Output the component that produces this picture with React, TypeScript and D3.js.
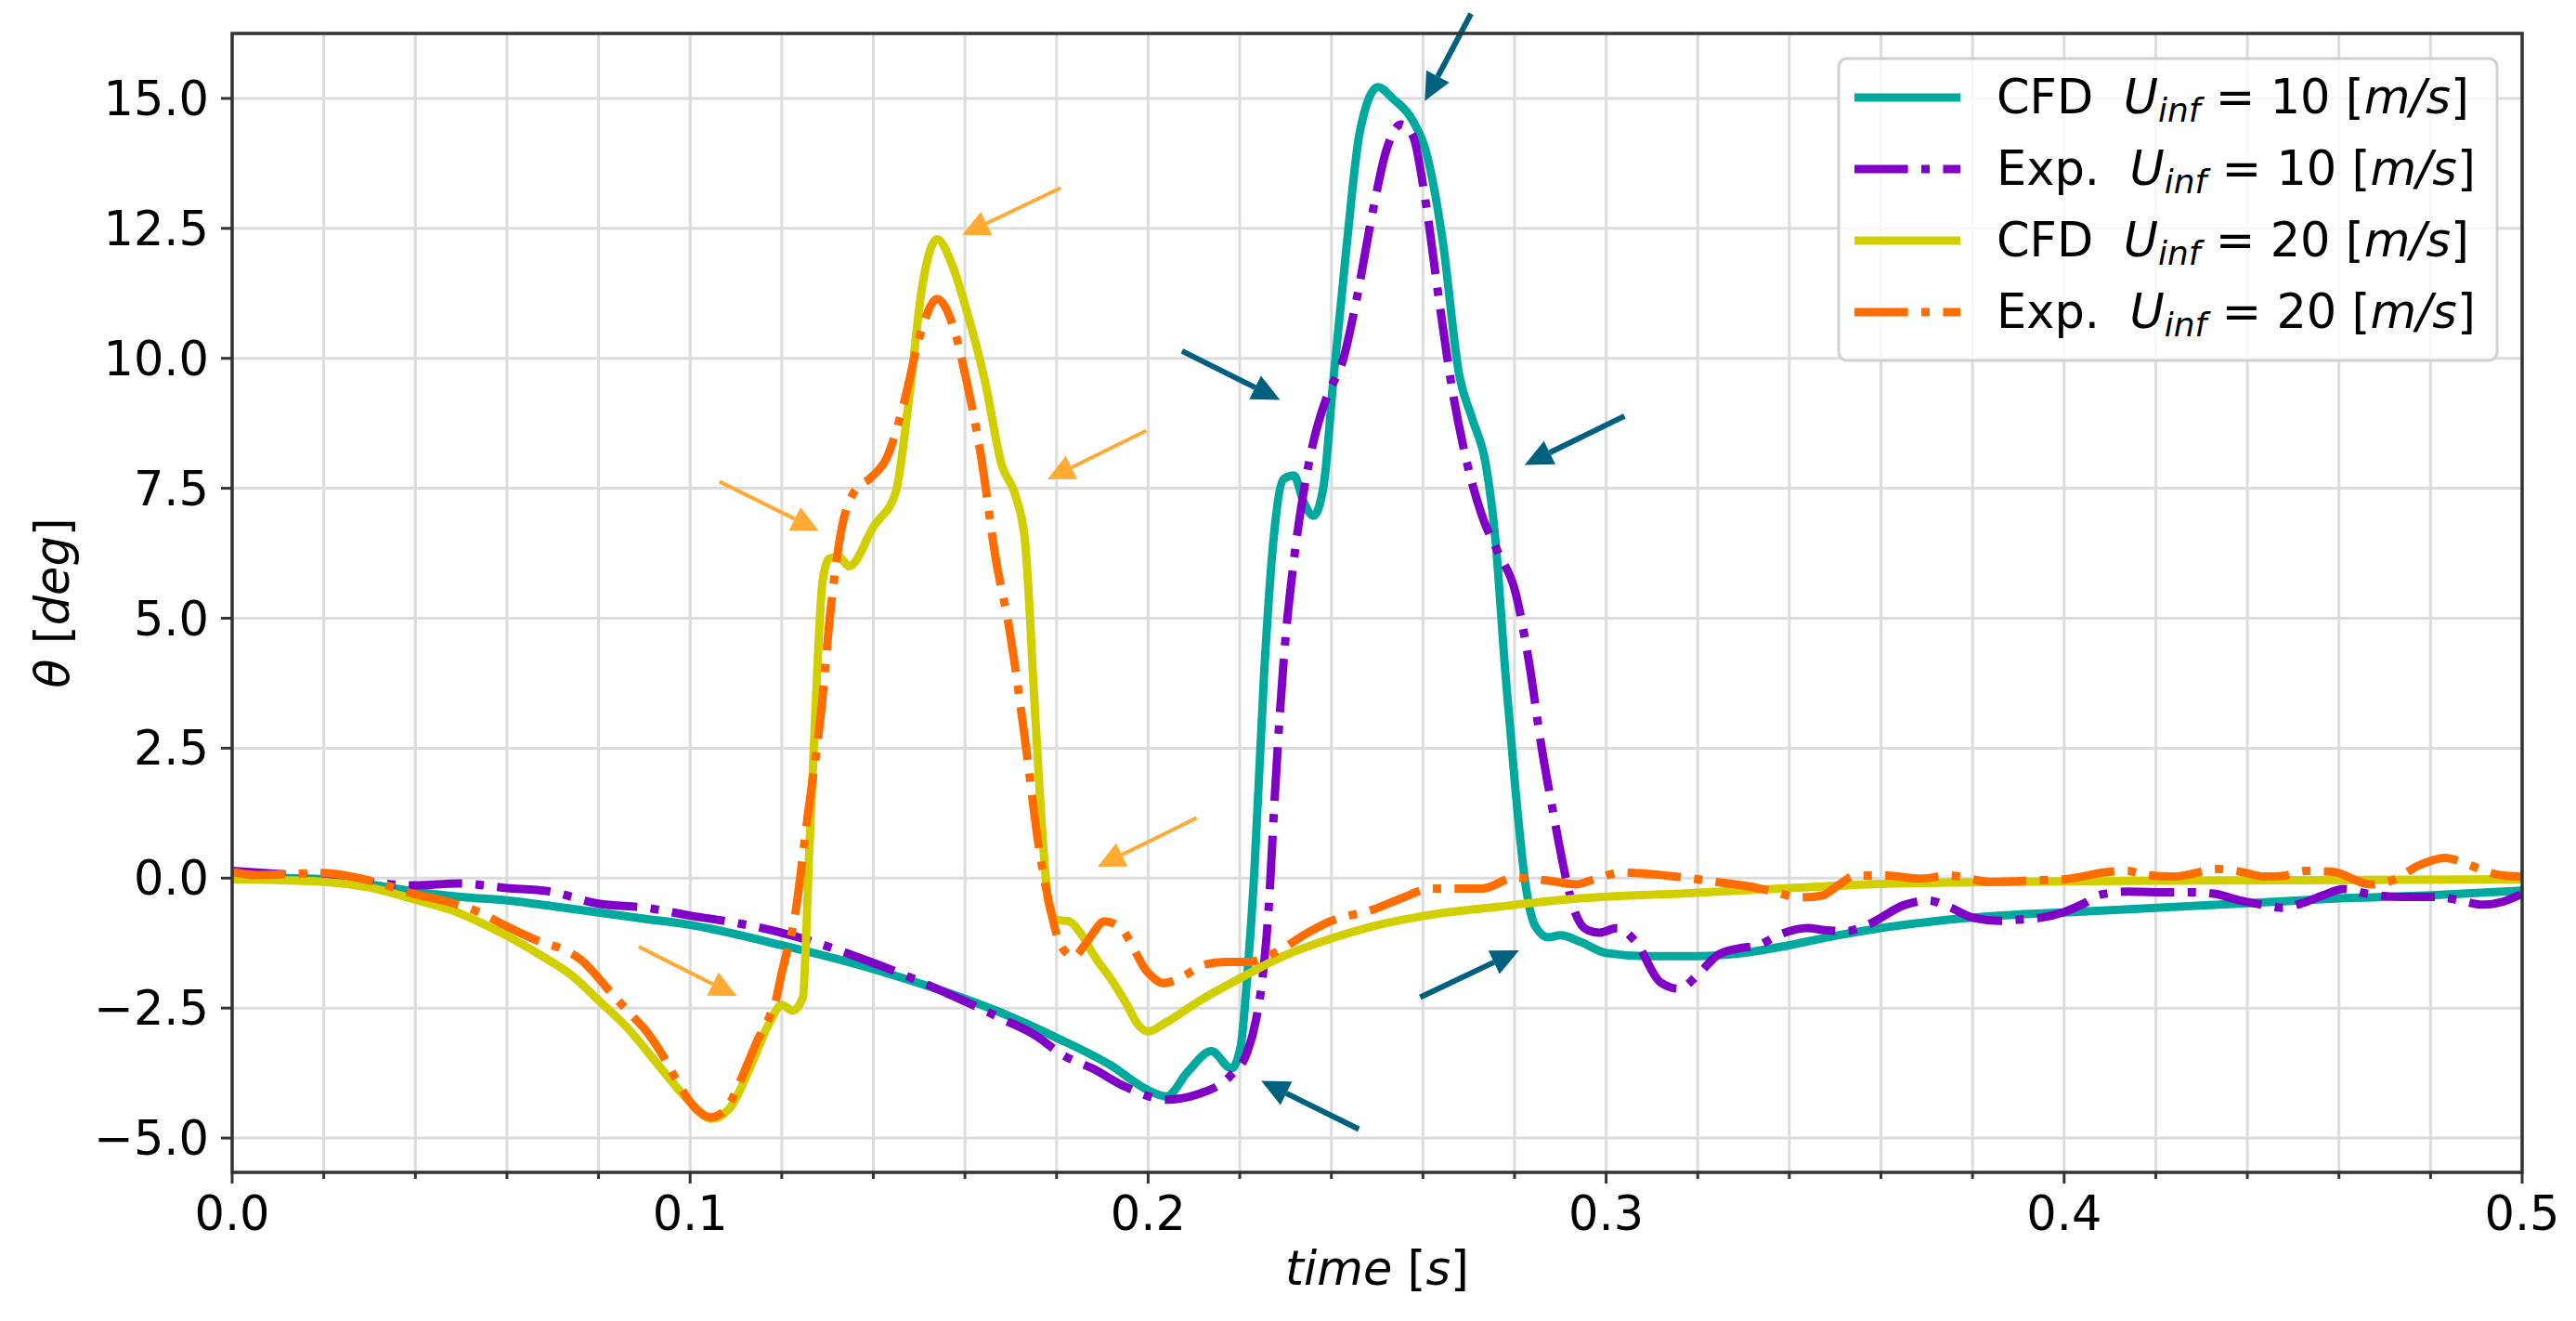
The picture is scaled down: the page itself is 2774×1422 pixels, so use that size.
import React, { useEffect, useRef } from "react";
import * as d3 from "d3";

// ---- data ----
const cfd10Time = [
  0, 0.02, 0.03, 0.04, 0.05, 0.06, 0.07, 0.08, 0.09, 0.1, 0.12, 0.14, 0.1682, 0.18,
  0.1918, 0.2, 0.204, 0.2087, 0.2138, 0.2182, 0.2202, 0.2216, 0.2232, 0.2253, 0.2274,
  0.2296, 0.2318, 0.2339, 0.2361, 0.2383, 0.2404, 0.2433, 0.2462, 0.2502, 0.2534,
  0.2578, 0.2606, 0.2643, 0.2679, 0.2708, 0.2737, 0.2758, 0.278, 0.2801, 0.2823,
  0.2845, 0.2874, 0.29, 0.2945, 0.3, 0.3088, 0.32, 0.33, 0.34, 0.35, 0.36, 0.3725,
  0.38, 0.39, 0.4, 0.42, 0.44, 0.46, 0.48, 0.5,
];
const cfd10Theta = [
  0.02, -0.02, -0.12, -0.26, -0.36, -0.43, -0.54, -0.66, -0.78, -0.9, -1.29, -1.75, -2.6, -3.07,
  -3.6, -4.08, -4.2, -3.72, -3.33, -3.66, -3.24, -1.93, 0.15, 3.9, 6.54,
  7.68, 7.75, 7.25, 6.97, 7.54, 9.55, 12.13, 14.35, 15.22, 15.0,
  14.57, 14.0, 12.27, 9.69, 8.83, 7.97, 6.54, 3.95, 1.8, -0.06,
  -0.92, -1.14, -1.1, -1.23, -1.44, -1.5, -1.5, -1.44, -1.29, -1.11, -0.96, -0.82,
  -0.76, -0.7, -0.66, -0.57, -0.48, -0.39, -0.33, -0.24,
];

const exp10Time = [
  0, 0.02, 0.04, 0.0494, 0.06, 0.0689, 0.08, 0.0904, 0.1, 0.1106, 0.12, 0.14, 0.1689,
  0.1749, 0.1817, 0.1878, 0.1952, 0.204, 0.2114, 0.2182, 0.2216, 0.2236, 0.225, 0.2263,
  0.2276, 0.2296, 0.2318, 0.2339, 0.2361, 0.239, 0.2426, 0.2455, 0.2491, 0.252, 0.2552,
  0.2578, 0.2606, 0.2635, 0.2664, 0.2693, 0.2729, 0.2765, 0.2801, 0.283, 0.2859,
  0.2888, 0.291, 0.2931, 0.2959, 0.2985, 0.3024, 0.3065, 0.3118, 0.3159, 0.32, 0.3245,
  0.329, 0.3332, 0.338, 0.344, 0.3478, 0.3523, 0.3575, 0.365, 0.3703, 0.3748, 0.38,
  0.386, 0.3898, 0.395, 0.4, 0.4045, 0.4078, 0.4138, 0.42, 0.4275, 0.4327, 0.438,
  0.4431, 0.4476, 0.452, 0.4565, 0.461, 0.4662, 0.4736, 0.481, 0.4859, 0.4914, 0.4959,
  0.5,
];
const exp10Theta = [
  0.14, 0.02, -0.14, -0.1, -0.19, -0.25, -0.49, -0.57, -0.72, -0.87, -1.05, -1.63, -2.74,
  -3.0, -3.42, -3.66, -4.02, -4.26, -4.14, -3.78, -3.36, -2.71, -1.9, -0.6,
  1.5, 4.2, 6.1, 7.4, 8.4, 9.26, 9.98, 11.13, 12.85, 14.0, 14.5,
  14.28, 13.0, 11.13, 9.4, 8.11, 6.97, 6.25, 5.53, 4.24, 2.52,
  1.09, 0.09, -0.63, -1.0, -1.05, -0.96, -1.23, -2.0, -2.13, -1.86, -1.47,
  -1.35, -1.29, -1.08, -0.96, -1.0, -1.02, -0.88, -0.52, -0.43, -0.55, -0.76,
  -0.82, -0.8, -0.76, -0.65, -0.48, -0.32, -0.26, -0.27, -0.27, -0.3, -0.42,
  -0.51, -0.57, -0.48, -0.33, -0.21, -0.3, -0.36, -0.36, -0.42, -0.51, -0.45,
  -0.3,
];

const cfd20Time = [
  0, 0.02, 0.03, 0.0406, 0.0473, 0.06, 0.0675, 0.0743, 0.08, 0.0864, 0.0931, 0.1, 0.1046,
  0.1086, 0.1133, 0.1174, 0.12, 0.1224, 0.1246, 0.126, 0.1275, 0.1289, 0.1304, 0.1325,
  0.1347, 0.1401, 0.1449, 0.1477, 0.1507, 0.1539, 0.1572, 0.1601, 0.1644, 0.168, 0.171,
  0.1731, 0.1753, 0.1772, 0.1783, 0.18, 0.1827, 0.1851, 0.1884, 0.1918, 0.1952, 0.1979,
  0.2, 0.204, 0.2114, 0.22, 0.229, 0.24, 0.2493, 0.2621, 0.2765, 0.29, 0.32, 0.34, 0.36,
  0.38, 0.4, 0.45, 0.5,
];
const cfd20Theta = [
  -0.02, -0.07, -0.18, -0.43, -0.6, -1.11, -1.49, -1.88, -2.35, -2.89, -3.6, -4.31, -4.63,
  -4.43, -3.6, -2.77, -2.44, -2.55, -2.3, 0.5, 3.5, 5.7, 6.15, 6.18,
  6.0, 6.77, 7.43, 9.15, 11.4, 12.29, 11.8, 11.0, 9.55, 7.96, 7.37,
  6.5, 3.2, 0.5, -0.5, -0.8, -0.83, -1.04, -1.52, -1.93, -2.41, -2.83,
  -2.95, -2.77, -2.35, -1.93, -1.52, -1.16, -0.92, -0.7, -0.55, -0.42, -0.28, -0.19, -0.11,
  -0.08, -0.06, -0.04, -0.02,
];

const exp20Time = [
  0, 0.0053, 0.02, 0.031, 0.04, 0.0473, 0.0541, 0.06, 0.0675, 0.0723, 0.0763, 0.0824,
  0.0864, 0.0904, 0.0945, 0.0978, 0.1012, 0.1046, 0.1079, 0.1113, 0.1147, 0.1174, 0.1187,
  0.12, 0.1228, 0.1257, 0.1286, 0.1307, 0.1329, 0.1358, 0.1394, 0.143, 0.1467, 0.1503,
  0.1539, 0.1575, 0.1604, 0.1633, 0.1668, 0.1697, 0.1733, 0.1762, 0.1786, 0.1803,
  0.1824, 0.1837, 0.1857, 0.1874, 0.1905, 0.1939, 0.2, 0.2033, 0.2074, 0.2121, 0.2168,
  0.2222, 0.227, 0.2357, 0.2398, 0.2493, 0.2549, 0.2621, 0.2729, 0.2801, 0.2874,
  0.2935, 0.2968, 0.3035, 0.3095, 0.3163, 0.3238, 0.3313, 0.3362, 0.3425, 0.347,
  0.3508, 0.3545, 0.3613, 0.3688, 0.3748, 0.3838, 0.3943, 0.4003, 0.4097, 0.4138,
  0.4178, 0.4238, 0.4283, 0.433, 0.4387, 0.4439, 0.4476, 0.4528, 0.4587, 0.4669,
  0.472, 0.4773, 0.4833, 0.4862, 0.4907, 0.4952, 0.5,
];
const exp20Theta = [
  0.12, 0.06, 0.1, -0.07, -0.31, -0.46, -0.66, -0.93, -1.23, -1.37, -1.58, -2.17,
  -2.56, -2.94, -3.48, -4.01, -4.43, -4.6, -4.43, -3.83, -3.12, -2.65, -2.35,
  -1.82, -0.77, 1.22, 3.2, 5.19, 6.64, 7.43, 7.7, 8.1, 9.15, 10.48,
  11.14, 10.6, 9.55, 8.23, 6.11, 4.79, 2.54, 0.56, -0.57, -1.16,
  -1.46, -1.52, -1.34, -1.13, -0.83, -0.95, -1.82, -2.02, -1.9, -1.67, -1.61,
  -1.61, -1.46, -1.01, -0.83, -0.6, -0.4, -0.2, -0.2, 0.01, -0.05,
  -0.12, -0.04, 0.11, 0.08, 0.02, -0.07, -0.16, -0.25, -0.37, -0.34,
  -0.13, 0.05, 0.05, -0.01, 0.05, -0.07, -0.04, -0.02, 0.12, 0.14,
  0.06, 0.03, 0.09, 0.18, 0.12, 0.03, 0.04, 0.14, 0.12, -0.12,
  -0.03, 0.24, 0.39, 0.33, 0.18, 0.06, 0.03,
];

const seriesLabels = ["CFD", "Exp.", "CFD", "Exp."];
const seriesSpeeds = ["10", "10", "20", "20"];

const xMajorTicks = [0, 0.1, 0.2, 0.3, 0.4, 0.5];
const xMinorTicks = [
  0.02, 0.04, 0.06, 0.08, 0.12, 0.14, 0.16, 0.18, 0.22, 0.24, 0.26, 0.28,
  0.32, 0.34, 0.36, 0.38, 0.42, 0.44, 0.46, 0.48,
];
const yTicks = [-5, -2.5, 0, 2.5, 5, 7.5, 10, 12.5, 15];

// annotation arrows: [tail time, tail theta, head time, head theta]
const orangeArrows = [
  [0.1809, 13.28, 0.1594, 12.37],
  [0.1996, 8.61, 0.178, 7.67],
  [0.1064, 7.63, 0.1281, 6.68],
  [0.2106, 1.16, 0.189, 0.22],
  [0.0888, -1.32, 0.1102, -2.27],
];
const blueArrows = [
  [0.2705, 16.63, 0.2604, 14.95],
  [0.2074, 10.14, 0.2288, 9.2],
  [0.304, 8.89, 0.2822, 7.95],
  [0.2594, -2.29, 0.281, -1.39],
  [0.246, -4.83, 0.2247, -3.9],
];

const FONT = "DejaVu Sans, sans-serif";

const App: React.FC = () => {
  const ref = useRef<HTMLDivElement>(null);

  useEffect(() => {
    if (!ref.current) return;
    d3.select(ref.current).selectAll("*").remove();

    const width = 2774;
    const height = 1422;
    const left = 250;
    const right = 2716;
    const top = 36;
    const bottom = 1262;

    const x = d3.scaleLinear().domain([0, 0.5]).range([left, right]);
    const y = d3.scaleLinear().domain([-5.66, 16.25]).range([bottom, top]);

    const svg = d3
      .select(ref.current)
      .append("svg")
      .attr("width", width)
      .attr("height", height)
      .style("display", "block")
      .style("font-family", FONT);

    svg.append("rect").attr("width", width).attr("height", height).attr("fill", "#fff");

    // grid (minor x lines too, major y only)
    const grid = svg.append("g").attr("stroke", "#dcdcdc").attr("stroke-width", 3);
    [...xMajorTicks, ...xMinorTicks].forEach((t) => {
      grid.append("line").attr("x1", x(t)).attr("x2", x(t)).attr("y1", top).attr("y2", bottom);
    });
    yTicks.forEach((v) => {
      grid.append("line").attr("x1", left).attr("x2", right).attr("y1", y(v)).attr("y2", y(v));
    });

    svg
      .append("clipPath")
      .attr("id", "plot-clip")
      .append("rect")
      .attr("x", left)
      .attr("y", top)
      .attr("width", right - left)
      .attr("height", bottom - top);

    const series = [
      { t: cfd10Time, v: cfd10Theta, color: "#00a99d", dash: null },
      { t: exp10Time, v: exp10Theta, color: "#8000c8", dash: "57.6 14.4 9 14.4" },
      { t: cfd20Time, v: cfd20Theta, color: "#d2cf00", dash: null },
      { t: exp20Time, v: exp20Theta, color: "#ff6d00", dash: "57.6 14.4 9 14.4" },
    ];

    const line = d3
      .line<[number, number]>()
      .x((d) => x(d[0]))
      .y((d) => y(d[1]))
      .curve(d3.curveMonotoneX);

    const plot = svg.append("g").attr("clip-path", "url(#plot-clip)");
    series.forEach((s) => {
      const pts = s.t.map((t, i) => [t, s.v[i]] as [number, number]);
      plot
        .append("path")
        .attr("d", line(pts))
        .attr("fill", "none")
        .attr("stroke", s.color)
        .attr("stroke-width", 9)
        .attr("stroke-linejoin", "round")
        .attr("stroke-dasharray", s.dash);
    });

    // arrows
    const drawArrows = (list: number[][], color: string, shaft: number, headLen: number, headHalf: number) => {
      const g = svg.append("g");
      list.forEach(([t0, v0, t1, v1]) => {
        const x1 = x(t0), y1 = y(v0), x2 = x(t1), y2 = y(v1);
        const a = Math.atan2(y2 - y1, x2 - x1);
        const bx = x2 - headLen * Math.cos(a);
        const by = y2 - headLen * Math.sin(a);
        g.append("line")
          .attr("x1", x1).attr("y1", y1).attr("x2", bx).attr("y2", by)
          .attr("stroke", color).attr("stroke-width", shaft);
        const nx = -Math.sin(a) * headHalf;
        const ny = Math.cos(a) * headHalf;
        g.append("polygon")
          .attr("points", `${x2},${y2} ${bx + nx},${by + ny} ${bx - nx},${by - ny}`)
          .attr("fill", color);
      });
    };
    drawArrows(orangeArrows, "#ffaa33", 4, 29, 14);
    drawArrows(blueArrows, "#00607f", 6, 30, 14);

    // spines
    svg
      .append("rect")
      .attr("x", left)
      .attr("y", top)
      .attr("width", right - left)
      .attr("height", bottom - top)
      .attr("fill", "none")
      .attr("stroke", "#333")
      .attr("stroke-width", 3.5);

    // ticks
    const fmt = d3.format(".1f");
    const ticks = svg.append("g").attr("stroke", "#333").attr("stroke-width", 3);
    xMajorTicks.forEach((t) => {
      ticks.append("line").attr("x1", x(t)).attr("x2", x(t)).attr("y1", bottom).attr("y2", bottom + 12);
    });
    xMinorTicks.forEach((t) => {
      ticks.append("line").attr("x1", x(t)).attr("x2", x(t)).attr("y1", bottom).attr("y2", bottom + 7);
    });
    yTicks.forEach((v) => {
      ticks.append("line").attr("x1", left - 12).attr("x2", left).attr("y1", y(v)).attr("y2", y(v));
    });

    const labels = svg.append("g").attr("fill", "#000").attr("font-size", 51);
    xMajorTicks.forEach((t) => {
      labels
        .append("text")
        .attr("x", x(t))
        .attr("y", bottom + 62)
        .attr("text-anchor", "middle")
        .text(fmt(t));
    });
    yTicks.forEach((v) => {
      labels
        .append("text")
        .attr("x", left - 25)
        .attr("y", y(v) + 18)
        .attr("text-anchor", "end")
        .text(fmt(v));
    });

    // axis titles
    const xt = labels
      .append("text")
      .attr("x", (left + right) / 2)
      .attr("y", 1383)
      .attr("text-anchor", "middle")
      .style("white-space", "pre");
    xt.append("tspan").attr("font-style", "italic").text("time");
    xt.append("tspan").text(" [");
    xt.append("tspan").attr("font-style", "italic").text("s");
    xt.append("tspan").text("]");

    const yt = labels
      .append("text")
      .attr("transform", `translate(74, ${(top + bottom) / 2}) rotate(-90)`)
      .attr("text-anchor", "middle")
      .style("white-space", "pre");
    yt.append("tspan").attr("font-style", "italic").text("θ");
    yt.append("tspan").text(" [");
    yt.append("tspan").attr("font-style", "italic").text("deg");
    yt.append("tspan").text("]");

    // legend
    const lg = svg.append("g");
    lg.append("rect")
      .attr("x", 1980)
      .attr("y", 63)
      .attr("width", 709)
      .attr("height", 325)
      .attr("rx", 9)
      .attr("fill", "#fff")
      .attr("fill-opacity", 0.8)
      .attr("stroke", "#d0d0d0")
      .attr("stroke-width", 3);

    series.forEach((s, i) => {
      const ry = 105 + i * 77;
      lg.append("line")
        .attr("x1", 1997)
        .attr("x2", 2111)
        .attr("y1", ry)
        .attr("y2", ry)
        .attr("stroke", s.color)
        .attr("stroke-width", 9)
        .attr("stroke-dasharray", s.dash);
      const tx = lg
        .append("text")
        .attr("x", 2150)
        .attr("y", ry + 17)
        .attr("font-size", 51)
        .style("white-space", "pre");
      tx.append("tspan").text(`${seriesLabels[i]}  `);
      tx.append("tspan").attr("font-style", "italic").text("U");
      tx.append("tspan").attr("font-style", "italic").attr("font-size", 36).attr("dy", 9).text("inf");
      tx.append("tspan").attr("dy", -9).text(` = ${seriesSpeeds[i]} [`);
      tx.append("tspan").attr("font-style", "italic").text("m/s");
      tx.append("tspan").text("]");
    });
  }, []);

  return <div ref={ref} style={{ position: "absolute", left: 0, top: 0 }} />;
};

export default App;
